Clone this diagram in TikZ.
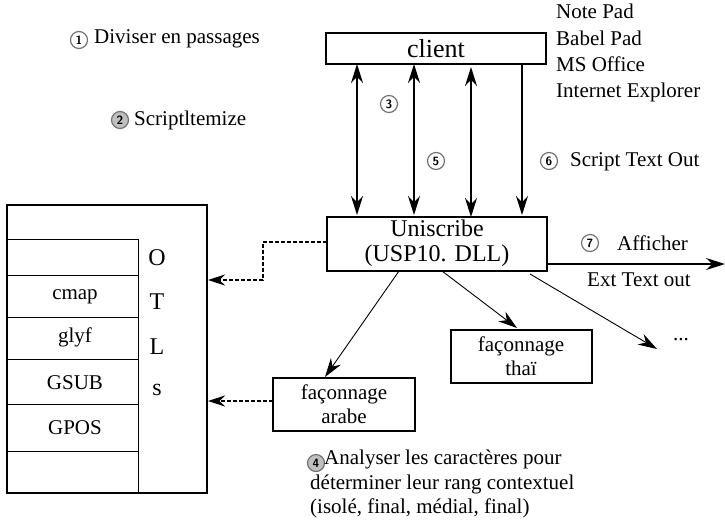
\documentclass[tikz,border=0pt]{standalone}
\usepackage{fontspec}
\setmainfont{Liberation Serif}
\usetikzlibrary{arrows.meta}
\begin{document}
\begin{tikzpicture}[x=1pt,y=-1pt,
  txt/.style={font=\fontsize{21}{25}\selectfont, inner sep=0pt, anchor=west},
  boxtxt/.style={font=\fontsize{21}{24}\selectfont, align=center, inner sep=0pt},
  bigl/.style={font=\fontsize{24}{24}\selectfont, inner sep=0pt},
  cn/.style={circle, draw=black!55, line width=1.2pt, minimum size=17pt, inner sep=0pt, font=\sffamily\bfseries\fontsize{12}{12}\selectfont},
  cnf/.style={cn, fill=black!25},
  tip/.style={-{Stealth[length=19pt,width=12pt]}},
  dtip/.style={{Stealth[length=19pt,width=12pt]}-{Stealth[length=19pt,width=12pt]}},
  bline/.style={line width=1.4pt},
  thin/.style={line width=0.9pt},
  dline/.style={dash pattern=on 4pt off 2pt, line width=1.1pt, -{Stealth[length=17pt,width=11pt]}},
  boxr/.style={draw, line width=1.1pt}
]
\useasboundingbox (0,0) rectangle (725,523);

% labels top left
\node[cn] (n1) at (79,40) {1};
\node[txt] (t1) at (94,39) {Diviser en passages};
\node[cnf] (n2) at (120,120) {2};
\node[txt] (t2) at (134,120) {Scriptltemize};

% client
\draw[boxr] (326,33) rectangle (546,64);
\coordinate (cl) at (436,48.5);
\node[font=\fontsize{26}{26}\selectfont, inner sep=0pt] (client) at (cl) {client};
\node[txt, align=left, font=\fontsize{21}{26.3}\selectfont, anchor=north west] (apps) at (556,4) {Note Pad\\Babel Pad\\MS Office\\Internet Explorer};

% Uniscribe
\draw[boxr] (327,217) rectangle (547,271);
\node[font=\fontsize{24}{24.5}\selectfont, align=center, inner sep=0pt] (uni) at (437,243) {Uniscribe\\(USP10. DLL)};

% vertical arrows
\coordinate (a1t) at (357,64); \coordinate (a1b) at (357,215);
\coordinate (a2t) at (414,64); \coordinate (a2b) at (414,215);
\coordinate (a3t) at (471,67); \coordinate (a3b) at (471,217);
\coordinate (a4t) at (522,64); \coordinate (a4b) at (522,215);
\draw[bline,dtip] (a1t) -- (a1b);
\draw[bline,dtip] (a2t) -- (a2b);
\draw[bline,dtip] (a3t) -- (a3b);
\draw[bline,tip] (a4t) -- (a4b);
\node[cn] (n3) at (389,104) {3};
\node[cn] (n5) at (436,161) {5};
\node[cn] (n6) at (549,161) {6};
\node[txt] (t6) at (570,162) {Script Text Out};

% output arrow
\coordinate (outs) at (547,264);
\coordinate (oute) at (725,264);
\draw[bline,tip] (outs) -- (oute);
\node[cn] (n7) at (590,243) {7};
\node[txt] (t7) at (617,243) {Afficher};
\node[txt] (t7b) at (587,280) {Ext Text out};

% OTLS box
\draw[boxr] (7,205) rectangle (207,493);
\draw[line width=1pt] (7,239) -- (138,239) -- (138,493);
\foreach \y in {275,317,359,404,451} \draw[line width=1pt] (7,\y) -- (138,\y);
\node[boxtxt] (cmap) at (75,297) {cmap};
\node[boxtxt] (glyf) at (75,337) {glyf};
\node[boxtxt] (gsub) at (75,383) {GSUB};
\node[boxtxt] (gpos) at (75,428) {GPOS};
\node[bigl] (lo) at (157,258) {O};
\node[bigl] (lt) at (157,302) {T};
\node[bigl] (ll) at (157,347) {L};
\node[bigl] (ls) at (157,390) {s};

% shaping boxes
\draw[boxr] (273,378) rectangle (415,431);
\node[boxtxt] (arabe) at (344,404) {façonnage\\arabe};
\draw[boxr] (451,330) rectangle (592,383);
\node[boxtxt] (thai) at (521,356) {façonnage\\thaï};
\node[boxtxt] (dots) at (681,340) {...};

% diagonal arrows
\draw[thin,tip] (399,271) -- (325,377);
\draw[thin,tip] (442,271) -- (517,328);
\draw[thin,tip] (530,274) -- (657,349);

% dashed connectors
\coordinate (d1) at (263,242);
\coordinate (d2) at (263,280);
\draw[dline] (327,242) -- (d1) -- (d2) -- (208,280);
\draw[dline] (273,401) -- (208,401);

% step 4
\node[cnf] (n4) at (316,463) {4};
\node[txt, align=left, anchor=north west, font=\fontsize{21}{24.5}\selectfont] (t4) at (310,450) {\hspace{14pt}Analyser les caractères pour\\déterminer leur rang contextuel\\(isolé, final, médial, final)};
\end{tikzpicture}
\end{document}
